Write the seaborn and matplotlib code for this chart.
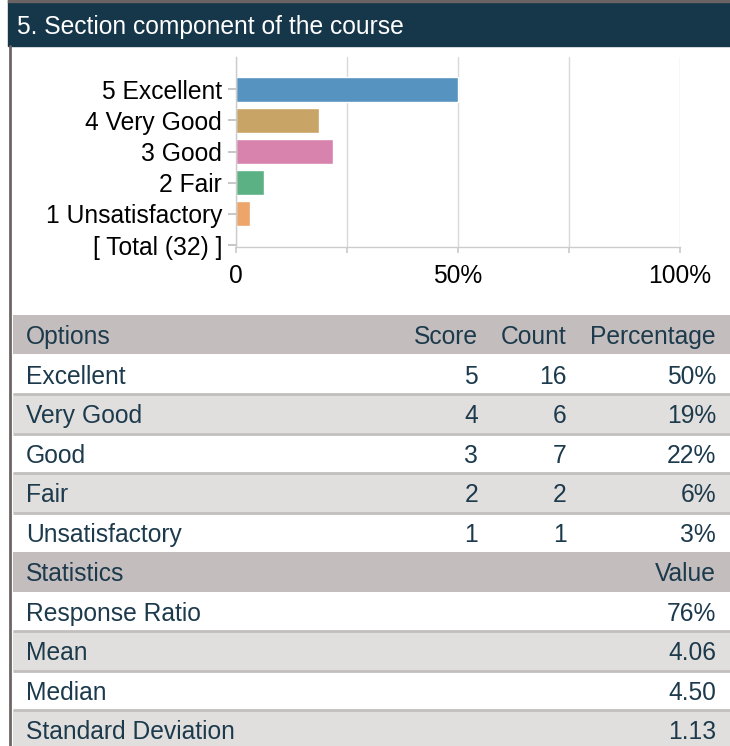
import pandas as pd
import matplotlib.pyplot as plt
import seaborn as sns
from matplotlib.patches import Rectangle
from matplotlib.lines import Line2D

# chart data
title = "5. Section component of the course"
bar_labels = ["5 Excellent", "4 Very Good", "3 Good", "2 Fair", "1 Unsatisfactory"]
bar_pct = [50, 18.75, 21.88, 6.25, 3.13]
bar_colors = ["#5793c0", "#c8a466", "#d783ad", "#5bb184", "#eda56a"]
total_label = "[ Total (32) ]"
x_ticks = [0, 25, 50, 75, 100]
x_ticklabels = ["0", "", "50%", "", "100%"]

# table data
table_header = ["Options", "Score", "Count", "Percentage"]
options = ["Excellent", "Very Good", "Good", "Fair", "Unsatisfactory"]
scores = [5, 4, 3, 2, 1]
counts = [16, 6, 7, 2, 1]
percentages = ["50%", "19%", "22%", "6%", "3%"]
stats_header = ["Statistics", "Value"]
stats_names = ["Response Ratio", "Mean", "Median", "Standard Deviation"]
stats_values = ["76%", "4.06", "4.50", "1.13"]

W, H = 730, 746
FS = 17.7
NAVY = "#16364a"
TXT = "#1c3a4c"

sns.set_theme(style="white")
plt.rcParams['font.family'] = ['Liberation Sans', 'DejaVu Sans']

fig = plt.figure(figsize=(W / 100, H / 100), dpi=100)
fig.patch.set_facecolor("white")

# title bar + panel border
fig.patches.append(Rectangle((8 / W, 1 - 46 / H), (W - 8) / W, 46 / H,
                             transform=fig.transFigure, color=NAVY, zorder=0))
fig.patches.append(Rectangle((8 / W, 1 - 2 / H), (W - 8) / W, 2 / H,
                             transform=fig.transFigure, color="#6b6363", zorder=1))
fig.lines.append(Line2D([10 / W, 10 / W], [0, 1 - 46 / H], transform=fig.transFigure,
                        color="#6e6566", lw=2))
fig.text(17 / W, 1 - 27 / H, title, color="white", fontsize=FS, va="center", ha="left")

# bar chart
df = pd.DataFrame({"label": bar_labels, "pct": bar_pct})
ax = fig.add_axes([236 / W, 1 - 247 / H, 444 / W, 190 / H])
sns.barplot(data=df, x="pct", y="label", hue="label", order=bar_labels + [total_label],
            hue_order=bar_labels, palette=bar_colors, saturation=1, width=0.8,
            legend=False, ax=ax)
ax.set_xlim(0, 100)
ax.set_ylim(5.06, -1.03)
ax.set_xticks(x_ticks)
ax.set_xticklabels(x_ticklabels)
ax.set_xlabel("")
ax.set_ylabel("")
ax.xaxis.grid(True, color="#d9d9d9", lw=1)
ax.set_axisbelow(True)
for s in ["top", "right"]:
    ax.spines[s].set_visible(False)
for s in ["left", "bottom"]:
    ax.spines[s].set_color("#cccccc")
    ax.spines[s].set_linewidth(1)
ax.tick_params(axis="x", length=4, color="#cccccc", pad=8, labelsize=FS, labelcolor="black", bottom=True)
ax.tick_params(axis="y", length=6, color="#c0c0c0", pad=4, labelsize=FS, labelcolor="black", left=True)

# table
rows = [("head", table_header)]
for o, s, c, p in zip(options, scores, counts, percentages):
    rows.append(("row", [o, str(s), str(c), p]))
rows.append(("head", stats_header))
for n, v in zip(stats_names, stats_values):
    rows.append(("row", [n, v]))

pitch = 39.5
tax = fig.add_axes([13 / W, 0, (W - 13) / W, (H - 315) / H])
tax.set_xlim(13, W)
tax.set_ylim((H - 315) / pitch, 0)
tax.axis("off")

col_x4 = [26, 478, 567, 716]
col_x2 = [26, 716]
stripe = 0
for i, (kind, cells) in enumerate(rows):
    if kind == "head":
        bg = "#c3bdbd"
        stripe = 0
    else:
        bg = "white" if stripe % 2 == 0 else "#e1dfde"
        stripe += 1
    tax.add_patch(Rectangle((13, i), W - 13, 1, color=bg, lw=0, zorder=0))
    if kind == "row" and stripe > 1:
        tax.plot([13, W], [i, i], color="#c2bebe", lw=2, zorder=1, solid_capstyle="butt")
    xs = col_x4 if len(cells) == 4 else col_x2
    for j, (x, t) in enumerate(zip(xs, cells)):
        tax.text(x, i + 0.56, t, ha="left" if j == 0 else "right", va="center",
                 fontsize=FS, color=TXT, zorder=2)

fig.savefig("out.png", dpi=100, facecolor="white")
